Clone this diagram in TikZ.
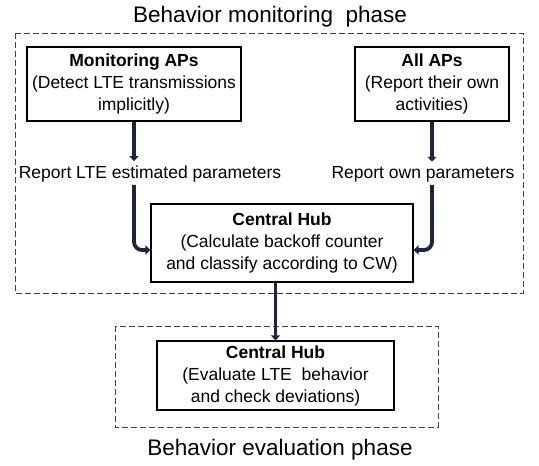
\documentclass[tikz,border=0pt]{standalone}
\usepackage{fontspec}
\setmainfont{Liberation Sans}
\usepackage{tikz}
\usetikzlibrary{positioning,calc,arrows.meta}
\definecolor{arrowblue}{HTML}{1B2440}

\begin{document}
\begin{tikzpicture}[x=1pt,y=-1pt,
  box/.style={draw,line width=1.1pt,align=center,inner sep=0pt,
    font=\fontsize{17.5}{22}\selectfont},
  note/.style={inner sep=0pt,anchor=base,font=\fontsize{17.5}{21}\selectfont},
  phase/.style={inner sep=0pt,anchor=base,font=\fontsize{22.5}{26}\selectfont},
  zone/.style={draw=black!75,line width=1pt,dash pattern=on 6pt off 3pt},
  flow/.style={draw=arrowblue,line width=3.8pt,rounded corners=8pt,
    -{Triangle[length=5pt,width=9pt]}}]
  \useasboundingbox (0,0) rectangle (539,466);

  % behavior monitoring phase
  \draw[zone] (15,33) rectangle (523,293);
  \node[phase] (montitle) at (270,22) {Behavior monitoring\ \ phase};
  \node[box,minimum width=214pt,minimum height=74pt] (mon) at (134,84)
    {\textbf{Monitoring APs}\\(Detect LTE transmissions\\implicitly)};
  \node[box,minimum width=154pt,minimum height=74pt] (all) at (432,84)
    {\textbf{All APs}\\(Report their own\\activities)};
  \node[note] (lbl1) at (150,178) {Report LTE estimated parameters};
  \node[note] (lbl2) at (423,178) {Report own parameters};
  \node[box,minimum width=262pt,minimum height=78pt] (hub) at (282,243)
    {\textbf{Central Hub}\\(Calculate backoff counter\\and classify according to CW)};

  \draw[flow,shorten >=4pt] (mon.south) -- (mon.south |- lbl1.north);
  \draw[flow,shorten <=3pt] (mon.south |- lbl1.south) |- ($(hub.west)+(0,7)$);
  \draw[flow,shorten >=4pt] (all.south) -- (all.south |- lbl2.north);
  \draw[flow,shorten <=3pt] (all.south |- lbl2.south) |- ($(hub.east)+(0,7)$);

  % behavior evaluation phase
  \draw[zone] (115,326) rectangle (438,427);
  \node[box,minimum width=237pt,minimum height=69pt] (eval) at (275.5,375.5)
    {\textbf{Central Hub}\\(Evaluate LTE\ \ behavior\\and check deviations)};
  \node[phase] (evaltitle) at (280,455) {Behavior evaluation phase};

  \draw[flow] (hub.south -| eval.north) -- (eval.north);
\end{tikzpicture}
\end{document}
